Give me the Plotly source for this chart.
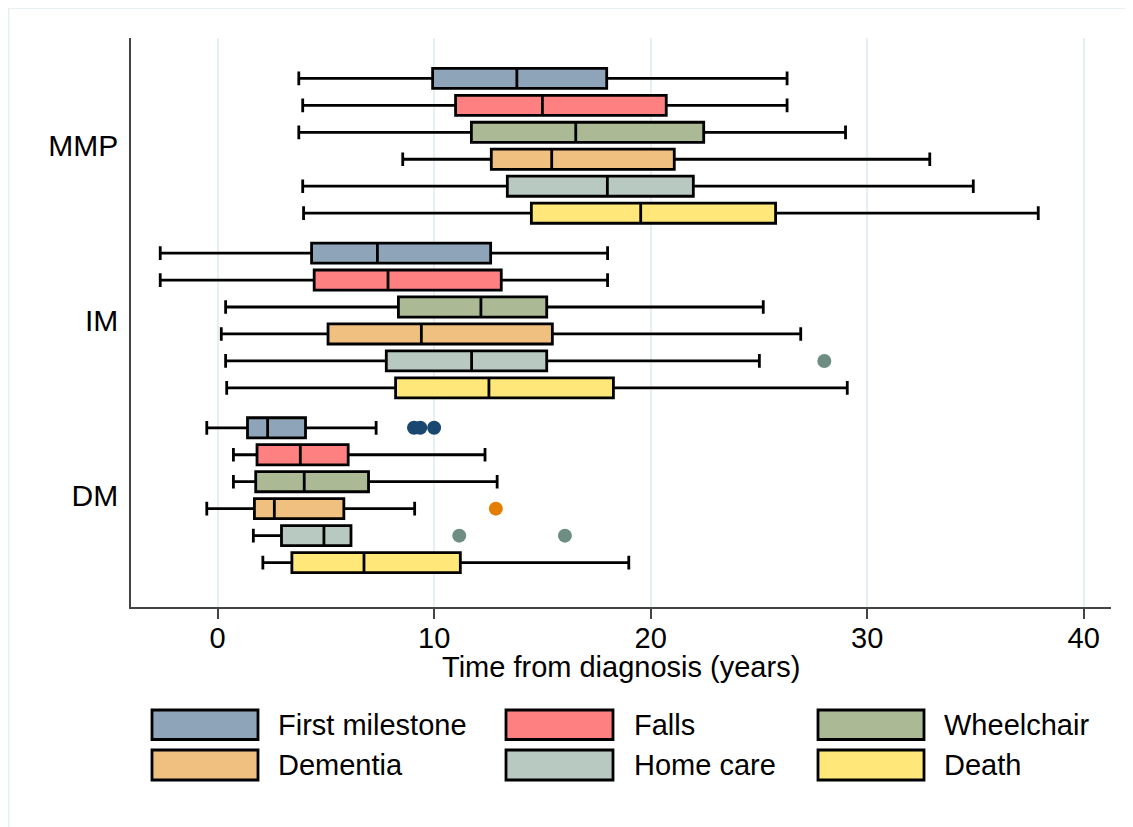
import plotly.graph_objects as go

# ---------------- data ----------------
groups = ["MMP", "IM", "DM"]
series = ["First milestone", "Falls", "Wheelchair", "Dementia", "Home care", "Death"]

# per series: values for groups [MMP, IM, DM]
lower = {
    "First milestone": [3.75, -2.65, -0.50],
    "Falls":           [3.93, -2.65, 0.73],
    "Wheelchair":      [3.75, 0.37, 0.73],
    "Dementia":        [8.55, 0.17, -0.50],
    "Home care":       [3.93, 0.37, 1.65],
    "Death":           [3.97, 0.42, 2.09],
}
q1 = {
    "First milestone": [9.93, 4.34, 1.38],
    "Falls":           [10.99, 4.46, 1.82],
    "Wheelchair":      [11.72, 8.35, 1.76],
    "Dementia":        [12.64, 5.10, 1.70],
    "Home care":       [13.38, 7.79, 2.95],
    "Death":           [14.49, 8.22, 3.43],
}
median = {
    "First milestone": [13.82, 7.38, 2.31],
    "Falls":           [15.00, 7.87, 3.82],
    "Wheelchair":      [16.54, 12.16, 4.00],
    "Dementia":        [15.43, 9.41, 2.62],
    "Home care":       [18.00, 11.73, 4.91],
    "Death":           [19.54, 12.53, 6.76],
}
q3 = {
    "First milestone": [17.97, 12.61, 4.06],
    "Falls":           [20.72, 13.10, 6.03],
    "Wheelchair":      [22.45, 15.20, 6.97],
    "Dementia":        [21.09, 15.46, 5.83],
    "Home care":       [21.97, 15.20, 6.16],
    "Death":           [25.77, 18.28, 11.21],
}
upper = {
    "First milestone": [26.30, 18.01, 7.32],
    "Falls":           [26.30, 18.01, 12.35],
    "Wheelchair":      [29.00, 25.20, 12.91],
    "Dementia":        [32.89, 26.93, 9.10],
    "Home care":       [34.90, 25.02, 6.16],
    "Death":           [37.90, 29.08, 18.99],
}
# outliers: (group, value)
outlier_groups = {
    "First milestone": ["DM", "DM", "DM"],
    "Dementia":        ["DM"],
    "Home care":       ["IM", "DM", "DM"],
}
outlier_values = {
    "First milestone": [9.07, 9.36, 10.0],
    "Dementia":        [12.85],
    "Home care":       [28.02, 11.16, 16.04],
}

x_ticks = [0, 10, 20, 30, 40]
x_title = "Time from diagnosis (years)"

# ---------------- styles ----------------
fill_colors = {
    "First milestone": "#8EA5B9",
    "Falls": "#FF8080",
    "Wheelchair": "#ABB995",
    "Dementia": "#F0C080",
    "Home care": "#B8C9C1",
    "Death": "#FFE77A",
}
outlier_colors = {
    "First milestone": "#1A476F",
    "Dementia": "#E37E00",
    "Home care": "#6E8E84",
}
FONT = "Liberation Sans, Arial, sans-serif"
FS = 29

SLOT = 0.1543       # spacing between series within a group (group spacing = 1)
BOXW = 0.115

def ypos(group, k):
    return groups.index(group) + (k - (len(series) - 1) / 2) * SLOT

fig = go.Figure()
for k, s in enumerate(series):
    fig.add_trace(go.Box(
        orientation="h",
        name=s,
        y=[ypos(g, k) for g in groups],
        q1=q1[s], median=median[s], q3=q3[s],
        lowerfence=lower[s], upperfence=upper[s],
        width=BOXW, whiskerwidth=0.68,
        fillcolor=fill_colors[s],
        line=dict(color="black", width=2.8),
        boxpoints=False,
        showlegend=False,
        hoverinfo="skip",
    ))
for k, s in enumerate(series):
    if s in outlier_values:
        fig.add_trace(go.Scatter(
            x=outlier_values[s],
            y=[ypos(g, k) for g in outlier_groups[s]],
            mode="markers",
            marker=dict(color=outlier_colors[s], size=14, line=dict(width=0)),
            showlegend=False,
            hoverinfo="skip",
        ))

# ---------------- layout geometry (figure pixels) ----------------
W, H = 1133, 827
L, R, T, B = 123, 1103, 30, 599

def px_x(px):
    return (px - L) / (R - L)

def px_y(py):
    return (B - py) / (B - T)

shapes = []
annotations = []
# outer light frame at the figure edge
shapes.append(dict(type="rect", xref="paper", yref="paper",
                   x0=px_x(0.5), x1=px_x(W - 0.5), y0=px_y(H - 0.5), y1=px_y(0),
                   line=dict(color="#E6EFF1", width=2), fillcolor="rgba(0,0,0,0)",
                   layer="below"))

# x-axis title
annotations.append(dict(xref="paper", yref="paper", x=0.5, y=px_y(659),
                        text=x_title, showarrow=False, xanchor="center", yanchor="middle",
                        font=dict(family=FONT, size=FS, color="black")))

# custom legend (3 columns x 2 rows)
col_key_x = [(144, 250), (498, 605), (810, 916)]
col_text_x = [268, 624, 934]
row_y = [(702, 731.5), (742, 772)]
for i, s in enumerate(series):
    r, c = divmod(i, 3)
    shapes.append(dict(type="rect", xref="paper", yref="paper",
                       x0=px_x(col_key_x[c][0]), x1=px_x(col_key_x[c][1]),
                       y0=px_y(row_y[r][1]), y1=px_y(row_y[r][0]),
                       line=dict(color="black", width=2.8),
                       fillcolor=fill_colors[s]))
    annotations.append(dict(xref="paper", yref="paper",
                            x=px_x(col_text_x[c]), y=px_y((row_y[r][0] + row_y[r][1]) / 2),
                            text=s, showarrow=False, xanchor="left", yanchor="middle",
                            font=dict(family=FONT, size=FS, color="black")))

fig.update_layout(
    width=W, height=H,
    margin=dict(l=L, r=W - R, t=T, b=H - B),
    paper_bgcolor="white", plot_bgcolor="white",
    showlegend=False,
    shapes=shapes,
    annotations=annotations,
    font=dict(family=FONT, size=FS, color="black"),
)
fig.update_xaxes(
    range=[-4.0, 41.26],
    tickvals=x_ticks, ticktext=[str(t) for t in x_ticks],
    ticks="outside", ticklen=10, tickwidth=1.5, tickcolor="#444444",
    showgrid=True, gridcolor="#E6EFF1", gridwidth=2,
    showline=True, linecolor="#444444", linewidth=1.5, mirror=False,
    zeroline=False,
    tickfont=dict(family=FONT, size=FS, color="black"),
    ticklabelstandoff=-6,
)
fig.update_yaxes(
    range=[2.640, -0.617],
    tickvals=list(range(len(groups))), ticktext=groups,
    ticks="", showgrid=False, zeroline=False,
    showline=True, linecolor="#444444", linewidth=1.5, mirror=False,
    tickfont=dict(family=FONT, size=30, color="black"),
    ticklabelstandoff=5,
)

fig.write_html("out.html")
